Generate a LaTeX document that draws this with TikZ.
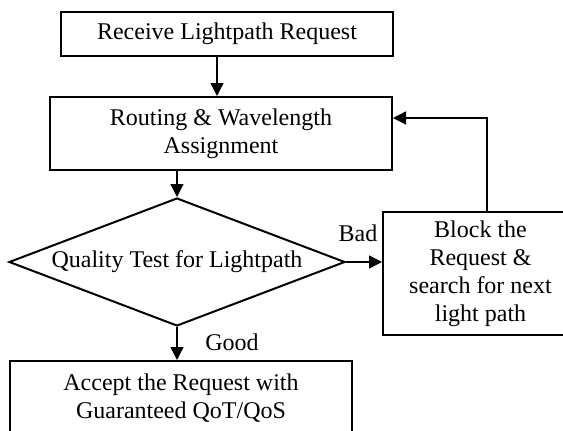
\documentclass[tikz,border=0pt]{standalone}
\usepackage{fontspec}
\setmainfont{Liberation Serif}
\usetikzlibrary{shapes.geometric,arrows.meta}
\begin{document}
\begin{tikzpicture}[x=1pt,y=-1pt,
  every node/.style={font=\fontsize{24}{28}\selectfont},
  box/.style={draw,line width=2pt,rectangle,inner sep=0pt,align=center},
  dec/.style={draw,line width=2pt,diamond,inner sep=0pt,shape aspect=2.625,minimum width=336pt,minimum height=128pt},
  arr/.style={line width=1.4pt,-{Triangle[length=13pt,width=13pt]}},
  lab/.style={inner sep=0pt}]
\useasboundingbox (0,0) rectangle (563,431);
\clip (0,0) rectangle (563,431);
\node[box,minimum width=332pt,minimum height=44pt] (b1) at (227,34) {Receive Lightpath Request};
\node[box,minimum width=342pt,minimum height=73pt] (b2) at (221,133.5) {Routing \& Wavelength\\Assignment};
\node[dec] (d) at (177,262) {Quality Test for Lightpath};
\node[box,minimum width=195pt,minimum height=123pt] (b3) at (480.5,273.5) {Block the\\Request \&\\search for next\\light path};
\node[box,minimum width=342pt,minimum height=74pt] (b4) at (181,398) {Accept the Request with\\Guaranteed QoT/QoS};
\node[lab] (bad) at (358,233) {Bad};
\node[lab] (good) at (232,342) {Good};
\coordinate (ax) at (217,0);
\coordinate (fb) at (487,118);
\draw[arr] (b1.south -| ax) -- (b2.north -| ax);
\draw[arr] (d.north |- b2.south) -- (d.north);
\draw[arr] (d.east) -- (b3.west |- d.east);
\draw[arr] (d.south) -- (b4.north -| d.south);
\draw[arr] (b3.north -| fb) |- (b2.east |- fb);
\end{tikzpicture}
\end{document}
